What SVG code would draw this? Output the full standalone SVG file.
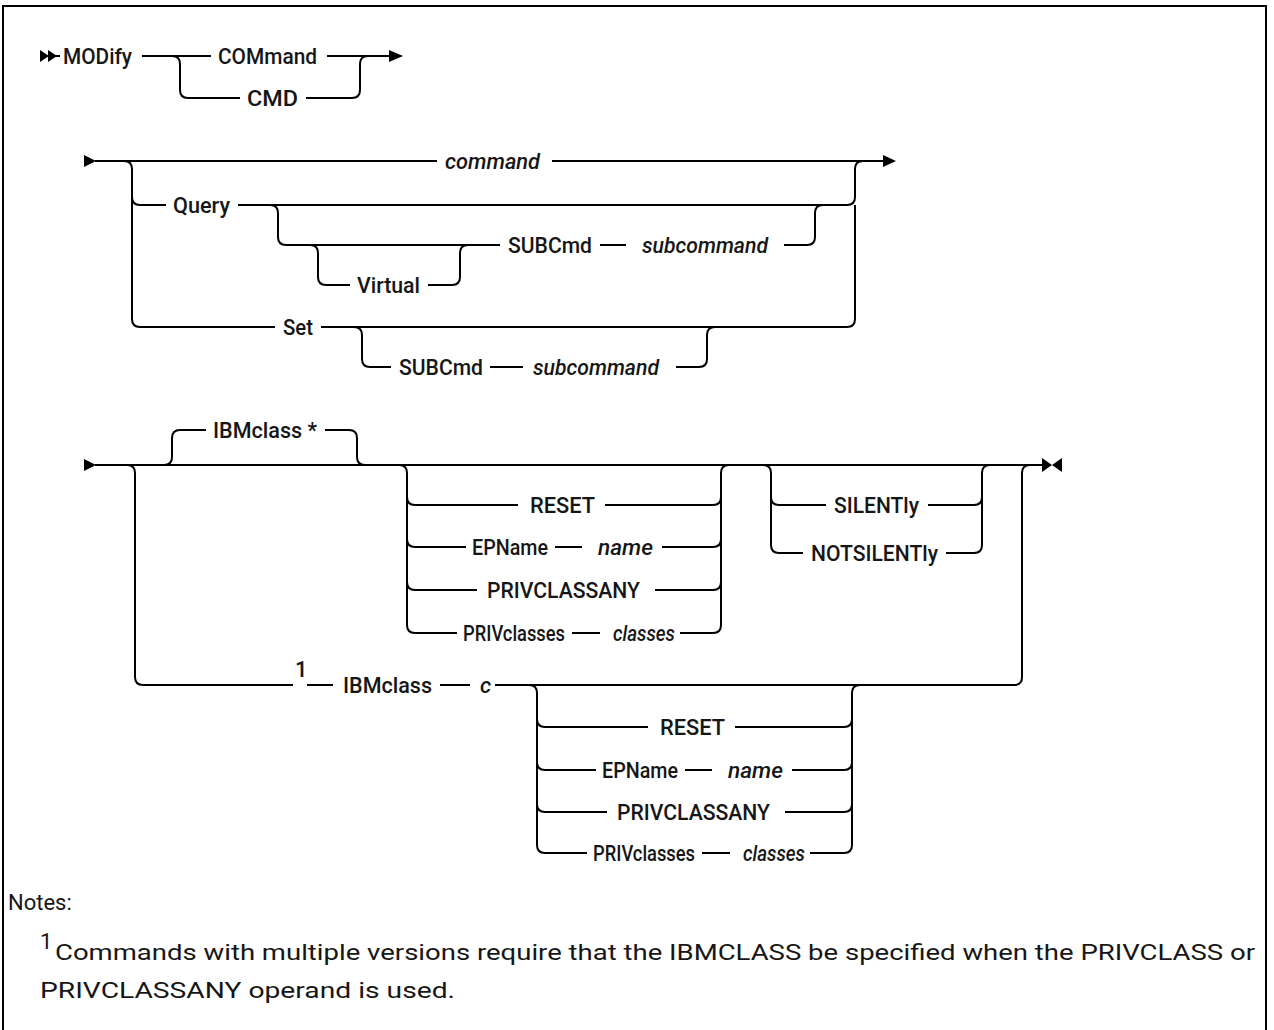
<svg xmlns="http://www.w3.org/2000/svg" width="1274" height="1030" viewBox="0 0 1274 1030">
<style>
.ln{fill:none;stroke:#000;stroke-width:2;stroke-linejoin:round}
.ah{fill:#000;stroke:none}
.t{font-family:Roboto,"Liberation Sans",Arial,sans-serif;font-size:22px;font-weight:500;fill:#161616}
.i{font-style:italic}
.n{font-family:Roboto,"Liberation Sans",Arial,sans-serif;font-size:22px;font-weight:400;fill:#161616}
</style>
<rect width="1274" height="1030" fill="#fff"/>
<path d="M3,1031 V6 H1266 V1031" fill="none" stroke="#000" stroke-width="2"/>

<g id="connectors">
<!-- row 1 -->
<polygon class="ah" points="40,50 49,56 40,62"/>
<polygon class="ah" points="48,50 57,56 48,62"/>
<path class="ln" d="M55,56 H60 M142,56 H211 M327,56 H390"/>
<path class="ln" d="M172,56 q8,0 8,8 V90 q0,8 8,8 H240"/>
<path class="ln" d="M306,98 H352 q8,0 8,-8 V64 q0,-8 8,-8"/>
<polygon class="ah" points="389,50 403,56 389,62"/>

<!-- row 2 -->
<polygon class="ah" points="84,155 96,161 84,167"/>
<path class="ln" d="M95,161 H437 M552,161 H883"/>
<polygon class="ah" points="883,155 896,161 883,167"/>
<path class="ln" d="M124,161 q8,0 8,8 V319 q0,8 8,8 H275"/>
<path class="ln" d="M132,197 q0,8 8,8 H166"/>
<path class="ln" d="M238,205 H847 q8,0 8,-8 V169 q0,-8 8,-8"/>
<path class="ln" d="M321,327 H847 q8,0 8,-8 V205"/>
<path class="ln" d="M270,205 q8,0 8,8 V237 q0,8 8,8 H500"/>
<path class="ln" d="M310,245 q8,0 8,8 V277 q0,8 8,8 H350"/>
<path class="ln" d="M428,285 H452 q8,0 8,-8 V253 q0,-8 8,-8"/>
<path class="ln" d="M600,245 H626"/>
<path class="ln" d="M784,245 H807 q8,0 8,-8 V213 q0,-8 8,-8"/>
<path class="ln" d="M354,327 q8,0 8,8 V359 q0,8 8,8 H391"/>
<path class="ln" d="M490,367 H523"/>
<path class="ln" d="M676,367 H699 q8,0 8,-8 V335 q0,-8 8,-8"/>

<!-- row 3 -->
<polygon class="ah" points="84,459 96,465 84,471"/>
<path class="ln" d="M95,465 H1042"/>
<polygon class="ah" points="1042,458 1052,465 1042,472"/>
<polygon class="ah" points="1062,458 1052,465 1062,472"/>
<path class="ln" d="M164,465 q8,0 8,-8 V438 q0,-8 8,-8 H206"/>
<path class="ln" d="M325,430 H349 q8,0 8,8 V457 q0,8 8,8"/>
<path class="ln" d="M127,465 q8,0 8,8 V677 q0,8 8,8 H293"/>
<path class="ln" d="M307,685 H333 M440,685 H470"/>
<path class="ln" d="M495,685 H1014 q8,0 8,-8 V473 q0,-8 8,-8"/>
<!-- upper group -->
<path class="ln" d="M399,465 q8,0 8,8 V625 q0,8 8,8 H457"/>
<path class="ln" d="M407,497 q0,8 8,8 H518 M407,539 q0,8 8,8 H466 M407,582 q0,8 8,8 H477"/>
<path class="ln" d="M605,505 H713 q8,0 8,-8 M555,547 H582 M662,547 H713 q8,0 8,-8 M655,590 H713 q8,0 8,-8 M572,633 H600"/>
<path class="ln" d="M680,633 H713 q8,0 8,-8 V473 q0,-8 8,-8"/>
<!-- silently group -->
<path class="ln" d="M763,465 q8,0 8,8 V545 q0,8 8,8 H803"/>
<path class="ln" d="M771,497 q0,8 8,8 H826"/>
<path class="ln" d="M928,505 H974 q8,0 8,-8"/>
<path class="ln" d="M946,553 H974 q8,0 8,-8 V473 q0,-8 8,-8"/>
<!-- lower group -->
<path class="ln" d="M529,685 q8,0 8,8 V845 q0,8 8,8 H587"/>
<path class="ln" d="M537,719 q0,8 8,8 H648 M537,762 q0,8 8,8 H596 M537,804 q0,8 8,8 H607"/>
<path class="ln" d="M735,727 H844 q8,0 8,-8 M685,770 H712 M792,770 H844 q8,0 8,-8 M785,812 H844 q8,0 8,-8 M702,853 H730"/>
<path class="ln" d="M810,853 H844 q8,0 8,-8 V693 q0,-8 8,-8"/>
</g>

<g id="n-modify"><text class="t" x="63" y="64" textLength="69" lengthAdjust="spacingAndGlyphs">MODify</text></g>
<g id="n-command-kw"><text class="t" x="218" y="64" textLength="99" lengthAdjust="spacingAndGlyphs">COMmand</text></g>
<g id="n-cmd"><text class="t" x="247" y="106" textLength="51" lengthAdjust="spacingAndGlyphs">CMD</text></g>

<g id="n-command"><text class="t i" x="445" y="169" textLength="95" lengthAdjust="spacingAndGlyphs">command</text></g>
<g id="n-query"><text class="t" x="173" y="213" textLength="57" lengthAdjust="spacingAndGlyphs">Query</text></g>
<g id="n-virtual"><text class="t" x="357" y="293" textLength="63" lengthAdjust="spacingAndGlyphs">Virtual</text></g>
<g id="n-q-subcmd"><text class="t" x="508" y="253" textLength="84" lengthAdjust="spacingAndGlyphs">SUBCmd</text></g>
<g id="n-q-subcommand"><text class="t i" x="642" y="253" textLength="126" lengthAdjust="spacingAndGlyphs">subcommand</text></g>
<g id="n-set"><text class="t" x="283" y="335" textLength="30" lengthAdjust="spacingAndGlyphs">Set</text></g>
<g id="n-s-subcmd"><text class="t" x="399" y="375" textLength="84" lengthAdjust="spacingAndGlyphs">SUBCmd</text></g>
<g id="n-s-subcommand"><text class="t i" x="533" y="375" textLength="126" lengthAdjust="spacingAndGlyphs">subcommand</text></g>

<g id="n-ibmclass-star"><text class="t" x="213" y="438" textLength="104" lengthAdjust="spacingAndGlyphs">IBMclass *</text></g>
<g id="n-note1"><text class="t" x="295" y="677">1</text></g>
<g id="n-ibmclass"><text class="t" x="343" y="693" textLength="89" lengthAdjust="spacingAndGlyphs">IBMclass</text></g>
<g id="n-c"><text class="t i" x="480" y="693">c</text></g>

<g id="n-u-reset"><text class="t" x="530" y="513" textLength="65" lengthAdjust="spacingAndGlyphs">RESET</text></g>
<g id="n-u-epname"><text class="t" x="472" y="555" textLength="76" lengthAdjust="spacingAndGlyphs">EPName</text></g>
<g id="n-u-name"><text class="t i" x="598" y="555" textLength="55" lengthAdjust="spacingAndGlyphs">name</text></g>
<g id="n-u-privclassany"><text class="t" x="487" y="598" textLength="153" lengthAdjust="spacingAndGlyphs">PRIVCLASSANY</text></g>
<g id="n-u-privclasses"><text class="t" x="463" y="641" textLength="102" lengthAdjust="spacingAndGlyphs">PRIVclasses</text></g>
<g id="n-u-classes"><text class="t i" x="613" y="641" textLength="62" lengthAdjust="spacingAndGlyphs">classes</text></g>

<g id="n-silently"><text class="t" x="834" y="513" textLength="85" lengthAdjust="spacingAndGlyphs">SILENTly</text></g>
<g id="n-notsilently"><text class="t" x="811" y="561" textLength="127" lengthAdjust="spacingAndGlyphs">NOTSILENTly</text></g>

<g id="n-l-reset"><text class="t" x="660" y="735" textLength="65" lengthAdjust="spacingAndGlyphs">RESET</text></g>
<g id="n-l-epname"><text class="t" x="602" y="778" textLength="76" lengthAdjust="spacingAndGlyphs">EPName</text></g>
<g id="n-l-name"><text class="t i" x="728" y="778" textLength="55" lengthAdjust="spacingAndGlyphs">name</text></g>
<g id="n-l-privclassany"><text class="t" x="617" y="820" textLength="153" lengthAdjust="spacingAndGlyphs">PRIVCLASSANY</text></g>
<g id="n-l-privclasses"><text class="t" x="593" y="861" textLength="102" lengthAdjust="spacingAndGlyphs">PRIVclasses</text></g>
<g id="n-l-classes"><text class="t i" x="743" y="861" textLength="62" lengthAdjust="spacingAndGlyphs">classes</text></g>

<g id="notes">
<text class="n" x="8" y="910">Notes:</text>
<text class="n" x="40" y="949" font-size="15">1</text>
<text class="n" x="55" y="960" textLength="1200" lengthAdjust="spacingAndGlyphs">Commands with multiple versions require that the IBMCLASS be specified when the PRIVCLASS or</text>
<text class="n" x="40" y="998" textLength="415" lengthAdjust="spacingAndGlyphs">PRIVCLASSANY operand is used.</text>
</g>
</svg>
